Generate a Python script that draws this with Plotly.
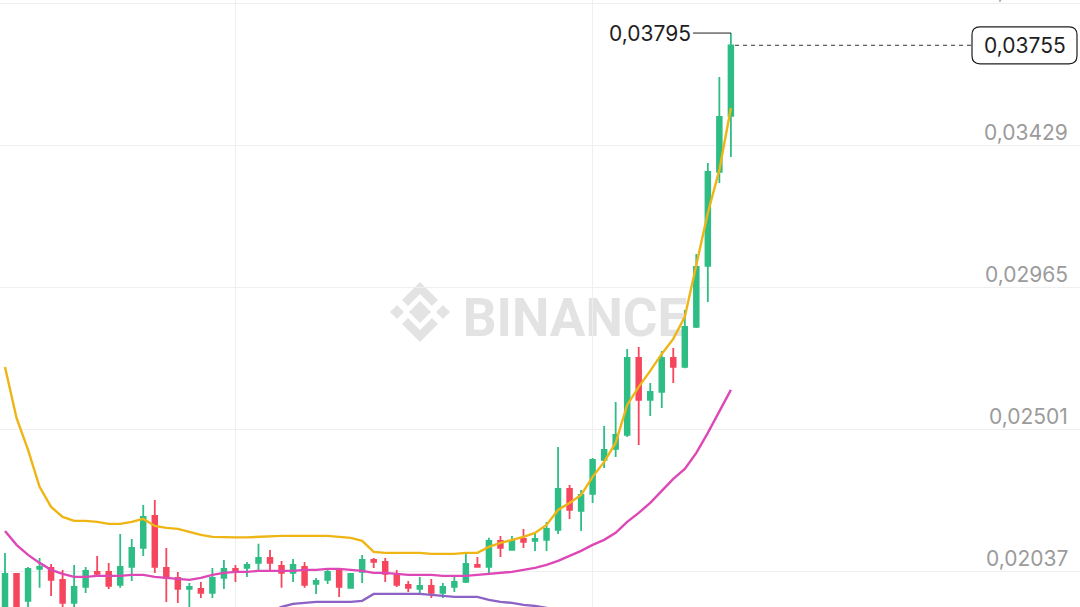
import plotly.graph_objects as go
import pandas as pd

# ---------------- data (daily candles) ----------------
start_date = "2024-02-10"
n_candles = 64
month_grid = ["2024-03-01", "2024-04-01"]

opens = [0.019034, 0.020276, 0.019394, 0.020440, 0.020472, 0.020080, 0.019328, 0.019851, 0.020341, 0.020341,
         0.019917, 0.020505, 0.021126, 0.022171, 0.020472, 0.020145, 0.019786, 0.019786, 0.019655, 0.020145,
         0.020440, 0.020472, 0.020635, 0.020799, 0.020537, 0.020309, 0.020505, 0.019949, 0.020080, 0.020374,
         0.019819, 0.020341, 0.020733, 0.020668, 0.020243, 0.019917, 0.019786, 0.019884, 0.019655, 0.019851,
         0.020015, 0.020570, 0.020505, 0.021355, 0.021060, 0.021420, 0.021355, 0.021387, 0.021714, 0.023053,
         0.022335, 0.022890, 0.024001, 0.024360, 0.024818, 0.027334, 0.025962, 0.026223, 0.027334, 0.027040,
         0.028347, 0.030340, 0.033412, 0.035242]
highs = [0.020962, 0.020276, 0.020505, 0.020799, 0.020603, 0.020407, 0.020570, 0.020505, 0.020864, 0.020635,
         0.021583, 0.021420, 0.022531, 0.022694, 0.021126, 0.020341, 0.019982, 0.020015, 0.020472, 0.020733,
         0.020570, 0.020668, 0.021257, 0.021060, 0.020701, 0.020766, 0.020668, 0.020145, 0.020472, 0.020472,
         0.020309, 0.020897, 0.020799, 0.020799, 0.020407, 0.020047, 0.020178, 0.020113, 0.019982, 0.020211,
         0.020995, 0.020831, 0.021453, 0.021518, 0.021518, 0.021746, 0.021648, 0.021975, 0.024426, 0.023184,
         0.023021, 0.024066, 0.025112, 0.025896, 0.027628, 0.027693, 0.026517, 0.027563, 0.027661, 0.028902,
         0.030732, 0.033706, 0.036516, 0.037950]
lows = [0.018936, 0.019034, 0.019165, 0.019819, 0.019557, 0.019165, 0.019198, 0.019655, 0.020178, 0.019786,
        0.019819, 0.020047, 0.020864, 0.020309, 0.019361, 0.019328, 0.019165, 0.019492, 0.019492, 0.019786,
        0.020015, 0.020178, 0.020407, 0.020341, 0.019819, 0.020015, 0.019819, 0.019622, 0.019949, 0.019524,
        0.019819, 0.019982, 0.020472, 0.020015, 0.019851, 0.019688, 0.019655, 0.019492, 0.019492, 0.019688,
        0.019982, 0.020490, 0.020309, 0.020831, 0.021050, 0.021126, 0.021028, 0.021028, 0.021583, 0.022073,
        0.021681, 0.022596, 0.023740, 0.024099, 0.024753, 0.024491, 0.025439, 0.025700, 0.026517, 0.027000,
        0.028314, 0.029164, 0.033052, 0.033902]
closes = [0.020276, 0.019165, 0.020440, 0.020505, 0.020080, 0.019328, 0.019851, 0.020374, 0.020276, 0.019884,
          0.020505, 0.021126, 0.022139, 0.020505, 0.020145, 0.019786, 0.019851, 0.019655, 0.020145, 0.020440,
          0.020374, 0.020570, 0.020799, 0.020635, 0.020309, 0.020570, 0.019917, 0.020047, 0.020341, 0.019851,
          0.020276, 0.020733, 0.020668, 0.020276, 0.019917, 0.019819, 0.019884, 0.019655, 0.019851, 0.020015,
          0.020603, 0.020505, 0.021355, 0.021126, 0.021355, 0.021322, 0.021420, 0.021746, 0.023053, 0.022367,
          0.022857, 0.024001, 0.024328, 0.024818, 0.027334, 0.025962, 0.026223, 0.027334, 0.027040, 0.028347,
          0.030308, 0.033412, 0.035209, 0.037550]

# Bollinger bands
boll_up = [0.027040, 0.025373, 0.024328, 0.023119, 0.022465, 0.022139, 0.022008, 0.022008, 0.021975, 0.021910,
           0.021910, 0.021975, 0.022073, 0.021844, 0.021779, 0.021746, 0.021648, 0.021550, 0.021485, 0.021470,
           0.021470, 0.021470, 0.021485, 0.021518, 0.021518, 0.021518, 0.021518, 0.021518, 0.021518, 0.021485,
           0.021453, 0.021355, 0.020995, 0.020962, 0.020962, 0.020962, 0.020962, 0.020929, 0.020929, 0.020929,
           0.020962, 0.020962, 0.021158, 0.021289, 0.021387, 0.021485, 0.021616, 0.021877, 0.022367, 0.022596,
           0.022857, 0.023446, 0.023936, 0.024557, 0.025798, 0.026386, 0.026910, 0.027465, 0.027955, 0.028674,
           0.030373, 0.032072, 0.033477, 0.035503]
boll_mb = [0.021681, 0.021224, 0.020897, 0.020635, 0.020407, 0.020276, 0.020178, 0.020178, 0.020211, 0.020211,
           0.020211, 0.020243, 0.020243, 0.020178, 0.020145, 0.020113, 0.020080, 0.020145, 0.020243, 0.020309,
           0.020341, 0.020341, 0.020374, 0.020374, 0.020374, 0.020374, 0.020407, 0.020407, 0.020440, 0.020440,
           0.020407, 0.020374, 0.020309, 0.020309, 0.020276, 0.020243, 0.020243, 0.020243, 0.020211, 0.020211,
           0.020211, 0.020243, 0.020276, 0.020309, 0.020341, 0.020407, 0.020472, 0.020570, 0.020701, 0.020864,
           0.021028, 0.021224, 0.021387, 0.021616, 0.021975, 0.022269, 0.022596, 0.022988, 0.023380, 0.023707,
           0.024230, 0.024883, 0.025569, 0.026288]
boll_dn = [None] * 23 + [0.019034, 0.019198, 0.019296, 0.019328, 0.019361, 0.019361, 0.019361, 0.019361,
                         0.019394, 0.019622, 0.019622, 0.019622, 0.019622, 0.019622, 0.019590, 0.019557,
                         0.019524, 0.019524, 0.019524, 0.019426, 0.019361, 0.019328, 0.019263, 0.019230,
                         0.019165, 0.019034] + [None] * 15

price_ticks = [0.01573, 0.02037, 0.02501, 0.02965, 0.03429, 0.03893]
price_tick_labels = ["0,01573", "0,02037", "0,02501", "0,02965", "0,03429", "0,03893"]
y_range = [0.019194, 0.03903]
last_price_label = "0,03755"
high_price_label = "0,03795"

# ---------------- figure ----------------
W, H = 1080, 607
dates = pd.date_range(start_date, periods=n_candles, freq="D")
x_range = [dates[0] - pd.Timedelta(days=0.434), dates[0] + pd.Timedelta(days=93.3)]

GREEN = "#2EBD85"
RED = "#F6465D"
FONT = "Inter"

fig = go.Figure()
fig.add_trace(go.Candlestick(
    x=dates, open=opens, high=highs, low=lows, close=closes,
    increasing=dict(line=dict(color=GREEN, width=1.8), fillcolor=GREEN),
    decreasing=dict(line=dict(color=RED, width=1.8), fillcolor=RED),
    whiskerwidth=0, hoverinfo="skip", showlegend=False,
))
for vals, col in [(boll_up, "#EEB515"), (boll_mb, "#DE48B6"), (boll_dn, "#8C62C6")]:
    fig.add_trace(go.Scatter(x=dates, y=vals, mode="lines", line=dict(color=col, width=2.4),
                             connectgaps=False, hoverinfo="skip", showlegend=False))

def px(xp, yp):
    return xp / W, 1 - yp / H

shapes = []
annotations = []

# watermark logo
cx, cy = 420, 312
def poly(points):
    pts = [px(cx + a, cy + b) for a, b in points]
    return "M " + " L ".join(f"{x:.5f},{y:.5f}" for x, y in pts) + " Z"
logo_parts = [
    [(0, -11), (11, 0), (0, 11), (-11, 0)],
    [(-23, -7), (-16, 0), (-23, 7), (-30, 0)],
    [(23, -7), (30, 0), (23, 7), (16, 0)],
    [(0, -30), (18, -12), (12, -6), (0, -18), (-12, -6), (-18, -12)],
    [(0, 30), (18, 12), (12, 6), (0, 18), (-12, 6), (-18, 12)],
]
for part in logo_parts:
    shapes.append(dict(type="path", xref="paper", yref="paper", path=poly(part),
                       fillcolor="#E3E3E3", line=dict(width=0), layer="below"))
x0, y0 = px(460, 290)
x1, y1 = px(690, 338)
shapes.append(dict(type="rect", xref="paper", yref="paper", x0=x0, x1=x1, y0=y1, y1=y0,
                   line=dict(width=0), fillcolor="rgba(0,0,0,0)", layer="below",
                   label=dict(text="BINANCE", font=dict(family="Roboto", size=53, color="#E3E3E3", weight="bold"),
                              textposition="middle center")))

# last price dashed line and box
last_close = closes[-1]
shapes.append(dict(type="line", xref="paper", yref="y", x0=735 / W, x1=972 / W, y0=last_close, y1=last_close,
                   line=dict(color="#333333", width=1, dash="4px,4px")))
bx0, bx1, r, hh = 972 / W, 1077 / W, 8, 18.5
rx = r / W
path = (f"M {bx0 + rx},{-hh} L {bx1 - rx},{-hh} Q {bx1},{-hh} {bx1},{-hh + r} "
        f"L {bx1},{hh - r} Q {bx1},{hh} {bx1 - rx},{hh} L {bx0 + rx},{hh} Q {bx0},{hh} {bx0},{hh - r} "
        f"L {bx0},{-hh + r} Q {bx0},{-hh} {bx0 + rx},{-hh} Z")
shapes.append(dict(type="path", xref="paper", yref="y", ysizemode="pixel", yanchor=last_close, path=path,
                   fillcolor="white", line=dict(color="#1E1E1E", width=1.2)))
annotations.append(dict(x=1025 / W, xref="paper", y=last_close, yref="y", text=last_price_label,
                        showarrow=False, xanchor="center", yanchor="middle",
                        font=dict(family=FONT, size=21, color="#1E1E1E")))

# high marker
hi = max(highs)
shapes.append(dict(type="line", xref="paper", yref="y", x0=693 / W, x1=731 / W, y0=hi, y1=hi,
                   line=dict(color="#1E1E1E", width=1)))
annotations.append(dict(x=693 / W, xref="paper", y=hi, yref="y", text=high_price_label,
                        showarrow=False, xanchor="right", yanchor="middle",
                        font=dict(family=FONT, size=21, color="#1E1E1E")))

# price axis labels (above gridlines)
for v, t in zip(price_ticks, price_tick_labels):
    annotations.append(dict(x=1070 / W, xref="paper", y=v, yref="y", yshift=13, text=t,
                            showarrow=False, xanchor="right", yanchor="middle",
                            font=dict(family=FONT, size=21, color="#9B9B9B")))

fig.update_layout(
    width=W, height=H, autosize=False,
    margin=dict(l=0, r=0, t=0, b=0, pad=0),
    paper_bgcolor="white", plot_bgcolor="white",
    showlegend=False, hovermode=False, dragmode=False,
    boxgap=0.42,
    shapes=shapes, annotations=annotations,
    xaxis=dict(type="date", range=x_range, showticklabels=False, ticks="", tickvals=month_grid,
               showgrid=True, gridcolor="#EFEFEF", gridwidth=1,
               zeroline=False, showline=False, rangeslider=dict(visible=False), fixedrange=True),
    yaxis=dict(range=y_range, tickvals=price_ticks, showticklabels=False, ticks="",
               showgrid=True, gridcolor="#EFEFEF", gridwidth=1, zeroline=False, showline=False,
               fixedrange=True),
)

fig.write_html("out.html", config={"displayModeBar": False},
               post_script="document.body.style.margin='0';document.body.style.overflow='hidden';")
